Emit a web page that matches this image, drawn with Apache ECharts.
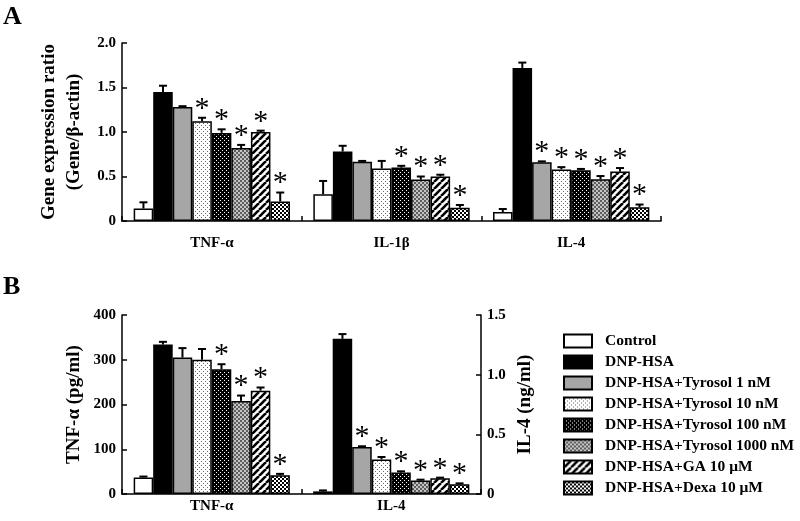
<!DOCTYPE html>
<html><head><meta charset="utf-8">
<script src="https://cdn.jsdelivr.net/npm/echarts@6/dist/echarts.min.js"></script>
<style>html,body{margin:0;padding:0;background:#fff}#c{width:800px;height:521px}</style>
</head><body><div id="c"></div>
<script>
// ---------- data ----------
const treatments = ['Control','DNP-HSA','DNP-HSA+Tyrosol 1 nM','DNP-HSA+Tyrosol 10 nM','DNP-HSA+Tyrosol 100 nM','DNP-HSA+Tyrosol 1000 nM','DNP-HSA+GA 10 μM','DNP-HSA+Dexa 10 μM'];
const groupsA = ['TNF-α','IL-1β','IL-4'];
const groupsB = ['TNF-α','IL-4'];
const yTicksA = [0, 0.5, 1.0, 1.5, 2.0];
const yTicksBLeft = [0, 100, 200, 300, 400];
const yTicksBRight = [0, 0.5, 1.0, 1.5];

// Panel A (gene expression ratio)
const aTNF      = [0.14, 1.45, 1.28, 1.12, 0.99, 0.82, 1.00, 0.22];
const aTNFErr   = [0.07, 0.07, 0.01, 0.04, 0.04, 0.035, 0.015, 0.10];
const aTNFStar  = [0, 0, 0, 1, 1, 1, 1, 1];
const aIL1b     = [0.30, 0.78, 0.665, 0.59, 0.60, 0.465, 0.50, 0.15];
const aIL1bErr  = [0.15, 0.065, 0.01, 0.085, 0.02, 0.035, 0.02, 0.03];
const aIL1bStar = [0, 0, 0, 0, 1, 1, 1, 1];
const aIL4      = [0.10, 1.72, 0.66, 0.58, 0.57, 0.47, 0.555, 0.155];
const aIL4Err   = [0.035, 0.06, 0.01, 0.025, 0.015, 0.035, 0.04, 0.03];
const aIL4Star  = [0, 0, 1, 1, 1, 1, 1, 1];

// Panel B
const bTNF      = [37, 334, 305, 300, 279, 208, 231, 42];   // pg/ml
const bTNFErr   = [2, 6, 21, 24, 11, 12, 7, 3];
const bTNFStar  = [0, 0, 0, 0, 1, 1, 1, 1];
const bIL4      = [0.022, 1.30, 0.394, 0.29, 0.18, 0.114, 0.131, 0.081]; // ng/ml
const bIL4Err   = [0.008, 0.04, 0.006, 0.02, 0.01, 0.006, 0.006, 0.008];
const bIL4Star  = [0, 0, 1, 1, 1, 1, 1, 1];

// ---------- styles ----------
const FONT = '"Liberation Serif","Times New Roman",serif';
const CAT_GAP = 0.13;

function tile(w, h, draw) {
  const c = document.createElement('canvas'); c.width = w; c.height = h;
  const g = c.getContext('2d'); draw(g, w, h); return { image: c, repeat: 'repeat' };
}
const fills = [
  '#ffffff',
  '#000000',
  '#a6a6a6',
  tile(4, 4, (g) => { g.fillStyle = '#fff'; g.fillRect(0,0,4,4); g.fillStyle = '#666'; g.fillRect(1,1,1,1); g.fillRect(3,3,1,1); }),
  tile(4, 4, (g) => { g.fillStyle = '#000'; g.fillRect(0,0,4,4); g.fillStyle = '#fff'; g.fillRect(0,0,1,1); g.fillRect(2,2,1,1); }),
  tile(4, 4, (g) => { g.fillStyle = '#c4c4c4'; g.fillRect(0,0,4,4); g.fillStyle = '#5e5e5e'; g.fillRect(0,0,2,2); g.fillRect(2,2,2,2); }),
  tile(7, 7, (g) => { g.fillStyle = '#fff'; g.fillRect(0,0,7,7); g.strokeStyle = '#000'; g.lineWidth = 2.6;
      for (const k of [-7, 0, 7]) { g.beginPath(); g.moveTo(k, 7); g.lineTo(k + 7, 0); g.stroke(); } }),
  tile(4, 4, (g) => { g.fillStyle = '#fff'; g.fillRect(0,0,4,4); g.fillStyle = '#000'; g.fillRect(0,0,2,2); g.fillRect(2,2,2,2); })
];

function errRender(params, api) {
  const cat = api.value(0), v = api.value(1), e = api.value(2), star = api.value(3), si = api.value(4);
  const base = api.coord([cat, v]);
  const top = api.coord([cat, v + e]);
  const catW = api.size([1, 0])[0];
  const bw = catW * (1 - CAT_GAP) / 8;
  const x = base[0] + (si - 3.5) * bw;
  const children = [
    { type: 'line', shape: { x1: x, y1: base[1], x2: x, y2: top[1] }, style: { stroke: '#000', lineWidth: 2 } },
    { type: 'line', shape: { x1: x - 4, y1: top[1], x2: x + 4, y2: top[1] }, style: { stroke: '#000', lineWidth: 2 } }
  ];
  if (star) {
    children.push({ type: 'text', style: { text: '*', x: x, y: top[1] - 9, align: 'center', verticalAlign: 'middle',
      font: 'normal 30px ' + FONT, fill: '#000' } });
  }
  return { type: 'group', children };
}

function errData(catIdx, vals, errs, stars) {
  const out = [];
  for (let i = 0; i < vals.length; i++) out.push([catIdx, vals[i], errs[i], stars[i], i]);
  return out;
}

const axisLine = { show: true, lineStyle: { color: '#000', width: 1.5 } };
const axisTick = { show: true, inside: true, length: 5, lineStyle: { color: '#000', width: 1.5 } };
const tickLabel = { color: '#000', fontFamily: FONT, fontWeight: 'bold', fontSize: 15 };
const fmt1 = (v) => v === 0 ? '0' : v.toFixed(1);

const series = [];
// Panel A bars
treatments.forEach((name, i) => {
  series.push({
    type: 'bar', name, xAxisIndex: 0, yAxisIndex: 0,
    data: [aTNF[i], aIL1b[i], aIL4[i]],
    barGap: '0%', barCategoryGap: (CAT_GAP * 100) + '%',
    itemStyle: { color: fills[i], borderColor: '#000', borderWidth: 1.5 },
    emphasis: { disabled: true }, animation: false
  });
});
series.push({ type: 'custom', xAxisIndex: 0, yAxisIndex: 0, renderItem: errRender, z: 5, animation: false,
  data: [].concat(errData(0, aTNF, aTNFErr, aTNFStar), errData(1, aIL1b, aIL1bErr, aIL1bStar), errData(2, aIL4, aIL4Err, aIL4Star)) });

// Panel B TNF bars (left axis)
treatments.forEach((name, i) => {
  series.push({
    type: 'bar', name, xAxisIndex: 1, yAxisIndex: 1,
    data: [bTNF[i], '-'],
    barGap: '0%', barCategoryGap: (CAT_GAP * 100) + '%',
    itemStyle: { color: fills[i], borderColor: '#000', borderWidth: 1.5 },
    emphasis: { disabled: true }, animation: false
  });
});
// Panel B IL-4 bars (right axis)
treatments.forEach((name, i) => {
  series.push({
    type: 'bar', name, xAxisIndex: 2, yAxisIndex: 2,
    data: ['-', bIL4[i]],
    barGap: '0%', barCategoryGap: (CAT_GAP * 100) + '%',
    itemStyle: { color: fills[i], borderColor: '#000', borderWidth: 1.5 },
    emphasis: { disabled: true }, animation: false
  });
});
series.push({ type: 'custom', xAxisIndex: 1, yAxisIndex: 1, renderItem: errRender, z: 5, animation: false,
  data: errData(0, bTNF, bTNFErr, bTNFStar) });
series.push({ type: 'custom', xAxisIndex: 2, yAxisIndex: 2, renderItem: errRender, z: 5, animation: false,
  data: errData(1, bIL4, bIL4Err, bIL4Star) });

const chart = echarts.init(document.getElementById('c'), null, { renderer: 'canvas' });
chart.setOption({
  backgroundColor: '#fff',
  animation: false,
  title: [
    { text: 'A', left: 3, top: 4, padding: 0, textStyle: { fontFamily: FONT, fontWeight: 'bold', fontSize: 26, color: '#000' } },
    { text: 'B', left: 3, top: 274, padding: 0, textStyle: { fontFamily: FONT, fontWeight: 'bold', fontSize: 26, color: '#000' } }
  ],
  grid: [
    { left: 122, top: 43, width: 539, height: 178 },
    { left: 122, top: 315, width: 359, height: 179 }
  ],
  legend: {
    data: treatments, orient: 'vertical', left: 563, top: 333, padding: 0,
    itemWidth: 28, itemHeight: 13, itemGap: 5, selectedMode: false,
    icon: 'rect',
    textStyle: { fontFamily: FONT, fontWeight: 'bold', fontSize: 15.5, color: '#000', padding: [0, 0, 0, 8] }
  },
  xAxis: [
    { type: 'category', gridIndex: 0, data: groupsA, axisLine, axisTick: Object.assign({}, axisTick, { interval: 0 }),
      axisLabel: Object.assign({}, tickLabel, { margin: 15 }) },
    { type: 'category', gridIndex: 1, data: groupsB, axisLine, axisTick: Object.assign({}, axisTick, { interval: 0 }),
      axisLabel: Object.assign({}, tickLabel, { margin: 5 }) },
    { type: 'category', gridIndex: 1, data: groupsB, show: false }
  ],
  yAxis: [
    { type: 'value', gridIndex: 0, min: yTicksA[0], max: yTicksA[yTicksA.length - 1], interval: 0.5,
      axisLine, axisTick, splitLine: { show: false },
      axisLabel: Object.assign({}, tickLabel, { formatter: fmt1, margin: 6 }),
      name: 'Gene expression ratio\n(Gene/β-actin)', nameLocation: 'middle', nameGap: 35,
      nameTextStyle: { fontFamily: FONT, fontWeight: 'bold', fontSize: 19, color: '#000', lineHeight: 25 } },
    { type: 'value', gridIndex: 1, min: yTicksBLeft[0], max: yTicksBLeft[yTicksBLeft.length - 1], interval: 100,
      axisLine, axisTick, splitLine: { show: false },
      axisLabel: Object.assign({}, tickLabel, { margin: 6 }),
      name: 'TNF-α (pg/ml)', nameLocation: 'middle', nameGap: 38,
      nameTextStyle: { fontFamily: FONT, fontWeight: 'bold', fontSize: 19, color: '#000' } },
    { type: 'value', gridIndex: 1, position: 'right', min: yTicksBRight[0], max: yTicksBRight[yTicksBRight.length - 1], interval: 0.5,
      axisLine, axisTick, splitLine: { show: false },
      axisLabel: Object.assign({}, tickLabel, { formatter: fmt1, margin: 6 }),
      name: 'IL-4 (ng/ml)', nameLocation: 'middle', nameGap: 35,
      nameTextStyle: { fontFamily: FONT, fontWeight: 'bold', fontSize: 19, color: '#000' } }
  ],
  series
});
</script></body></html>
